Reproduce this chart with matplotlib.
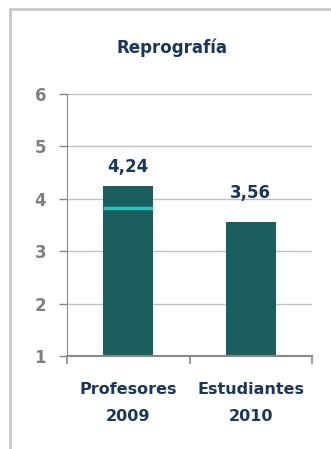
import matplotlib.pyplot as plt
from matplotlib.lines import Line2D

# data
categories = ['Profesores\n2009', 'Estudiantes\n2010']
values = [4.24, 3.56]
value_labels = ['4,24', '3,56']
marker_value = 3.83  # thin cyan line drawn inside the first bar
y_ticks = [1, 2, 3, 4, 5, 6]

bar_color = '#1A5E5E'
navy = '#17375E'
gray = '#808080'

plt.rcParams['font.family'] = ['DejaVu Sans']

fig = plt.figure(figsize=(3.31, 4.49), dpi=100)
W, H = 331, 449

# outer frame: only the left and top edges show
frame_kw = dict(transform=fig.transFigure, color='#C8C8C8', linewidth=2)
fig.lines.append(Line2D([10 / W, 10 / W], [0, 1 - 9 / H], **frame_kw))
fig.lines.append(Line2D([10 / W, 1], [1 - 9 / H, 1 - 9 / H], **frame_kw))

ax = fig.add_axes([67 / W, (H - 356) / H, (312 - 67) / W, (356 - 94) / H])

x = range(len(categories))
bars = ax.bar(x, values, width=0.41, color=bar_color, zorder=2)
ax.hlines(marker_value, -0.205, 0.205, color='#2EC4C4', linewidth=2.5, zorder=3)

offsets = [13.5, 20.5]
for i, b in enumerate(bars):
    ax.annotate(value_labels[i], (b.get_x() + b.get_width() / 2, values[i]),
                xytext=(0, offsets[i]), textcoords='offset points',
                ha='center', va='center', color=navy, fontsize=12, fontweight='bold')

ax.set_xlim(-0.5, 1.5)
ax.set_ylim(1, 6)
ax.set_yticks(y_ticks)
ax.set_yticklabels([str(t) for t in y_ticks], color=gray, fontsize=12, fontweight='bold')
ax.yaxis.grid(True, color='#C0C0C0', linewidth=1, zorder=0)
ax.set_axisbelow(True)

ax.set_xticks([-0.5, 0.5, 1.5])
ax.set_xticklabels([])
ax.set_xticks([0, 1], minor=True)
ax.set_xticklabels(categories, minor=True, color=navy, fontsize=11.5,
                   fontweight='bold', linespacing=1.95)
ax.tick_params(axis='x', which='minor', length=0, pad=19)
ax.tick_params(axis='x', which='major', length=6, direction='out', color='#888888', width=1.2)
ax.tick_params(axis='y', length=6, color='#888888', width=1, pad=9)

for s in ['top', 'right']:
    ax.spines[s].set_visible(False)
ax.spines['left'].set_color('#888888')
ax.spines['bottom'].set_color('#888888')
ax.spines['bottom'].set_linewidth(1.5)

fig.text(172 / W, 1 - 48 / H, 'Reprografía', ha='center', va='center',
         color=navy, fontsize=12, fontweight='bold')

fig.savefig('out.png', dpi=100, facecolor='white')
